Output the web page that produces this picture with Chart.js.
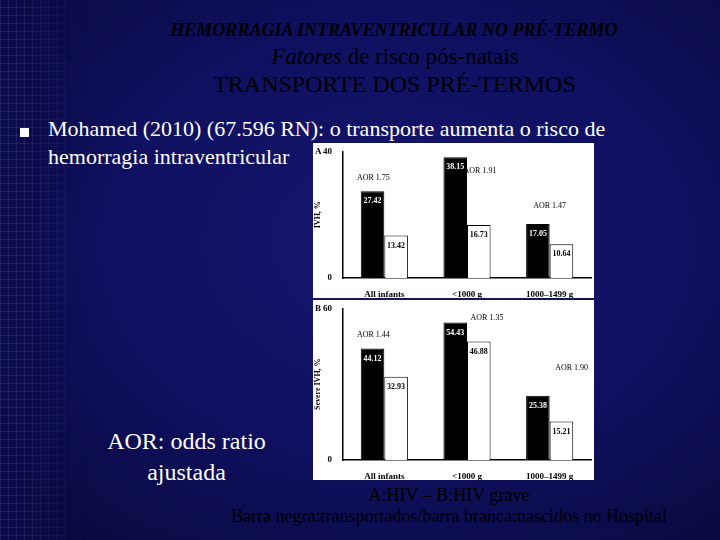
<!DOCTYPE html>
<html><head><meta charset="utf-8">
<script src="https://cdn.jsdelivr.net/npm/chart.js@4/dist/chart.umd.min.js"></script>
<style>
body{margin:0;width:720px;height:540px;overflow:hidden;}
#bg{position:absolute;left:0;top:0;width:720px;height:540px;background:radial-gradient(ellipse at 55% 45%,#17176e 0%,#0f1060 50%,#080838 100%);}
#strip{position:absolute;left:0;top:0;width:86px;height:540px;background-color:#0c0c4a;
background-image:linear-gradient(90deg,rgba(40,40,110,0.7) 1px,transparent 1px),linear-gradient(0deg,rgba(40,40,110,0.7) 1px,transparent 1px);background-size:8px 8px;opacity:.9;
-webkit-mask-image:linear-gradient(90deg,#000 20%,transparent 100%);}
.t{position:absolute;color:#fff;white-space:nowrap;font-family:"Liberation Serif","Times New Roman","DejaVu Serif",serif;}
.c{position:absolute;background:#fff;}
</style></head><body>
<div id="bg"></div><div id="strip"></div>
<div class="t" style="left:0;width:788px;text-align:center;top:20px;font-size:18px;font-style:italic;font-weight:bold;color:#000">HEMORRAGIA INTRAVENTRICULAR NO PRÉ-TERMO</div>
<div class="t" style="left:0;width:790px;text-align:center;top:44px;font-size:23px;color:#000"><i>Fatores</i> de risco pós-natais</div>
<div class="t" style="left:0;width:789px;text-align:center;top:71px;font-size:24px;color:#000">TRANSPORTE DOS PRÉ-TERMOS</div>
<div class="t" style="left:20px;top:124px;width:10px;height:10px;"><div style="width:9px;height:9px;background:#fff;margin-top:4px"></div></div>
<div class="t" style="left:48px;top:116px;font-size:22px;">Mohamed (2010) (67.596 RN): o transporte aumenta o risco de</div>
<div class="t" style="left:48px;top:144px;font-size:22px;">hemorragia intraventricular</div>
<div class="t" style="left:88px;width:197px;text-align:center;top:426px;font-size:24px;line-height:31px;">AOR: odds ratio<br>ajustada</div>
<div class="t" style="left:0;width:898px;text-align:center;top:485px;font-size:18px;color:#000">A:HIV – B:HIV grave</div>
<div class="t" style="left:0;width:898px;text-align:center;top:506px;font-size:18px;color:#000">Barra negra:transportados/barra branca:nascidos no Hospital</div>
<div class="c" style="left:313px;top:143px;width:281px;height:155px"><canvas id="ca"></canvas></div>
<div class="c" style="left:313px;top:300px;width:281px;height:180px"><canvas id="cb"></canvas></div>
<script>
const categories=["All infants","<1000 g","1000–1499 g"];
const ivhTransported=[27.42,38.15,17.05];
const ivhInborn=[13.42,16.73,10.64];
const aorA=["AOR 1.75","AOR 1.91","AOR 1.47"];
const sevTransported=[44.12,54.43,25.38];
const sevInborn=[32.93,46.88,15.21];
const aorB=["AOR 1.44","AOR 1.35","AOR 1.90"];
const F='"Liberation Serif"';
function make(id,black,white,aor,max,title,letter,aorPos){
 const lab={id:'lab',afterDatasetsDraw(ch){
  const c=ch.ctx;c.save();c.font='bold 8px '+F;c.textAlign='center';c.textBaseline='top';
  ch.data.datasets.forEach((d,i)=>{ch.getDatasetMeta(i).data.forEach((b,j)=>{
   c.fillStyle=i==0?'#fff':'#000';c.fillText(d.data[j].toFixed(2),b.x,b.y+6);});});
  const xs=ch.scales.x,ys=ch.scales.y;c.fillStyle='#000';c.font='8px '+F;
  aor.forEach((t,j)=>{const p=aorPos[j];c.fillText(t,xs.getPixelForValue(j)+p[0],ys.getPixelForValue(p[1]));});
  c.font='bold 9px '+F;c.textAlign='left';c.fillText(letter,2,ys.top-4);
  c.restore();}};
 new Chart(document.getElementById(id),{type:'bar',
  data:{labels:categories,datasets:[
   {data:black,backgroundColor:'#000',borderColor:'#000',borderWidth:1},
   {data:white,backgroundColor:'#fff',borderColor:'#000',borderWidth:1}]},
  options:{responsive:true,maintainAspectRatio:false,animation:false,
   layout:{padding:{top:6,right:3,left:0,bottom:0}},
   categoryPercentage:0.57,barPercentage:1,
   plugins:{legend:{display:false},tooltip:{enabled:false}},
   scales:{
    x:{grid:{display:false,drawTicks:true},border:{color:'#000',width:1.5},ticks:{color:'#000',font:{size:9,weight:'bold',family:'Liberation Serif'}},afterFit(s){s.height=20;}},
    y:{min:0,max:max,afterBuildTicks(s){s.ticks=[{value:0},{value:max}];},grid:{display:false},border:{color:'#000',width:1.5},
     ticks:{color:'#000',font:{size:9,weight:'bold',family:'Liberation Serif'}},
     title:{display:true,text:title,color:'#000',padding:0,font:{size:8,weight:'bold',family:'Liberation Serif'}},afterFit(s){s.width=30;}}}}
  ,plugins:[lab]});
}
make('ca',ivhTransported,ivhInborn,aorA,40,'IVH, %','A',[[-11,33],[13,35],[0,24]]);
make('cb',sevTransported,sevInborn,aorB,60,'Severe IVH, %','B',[[-11,51],[20,58],[22,38]]);
</script></body></html>
